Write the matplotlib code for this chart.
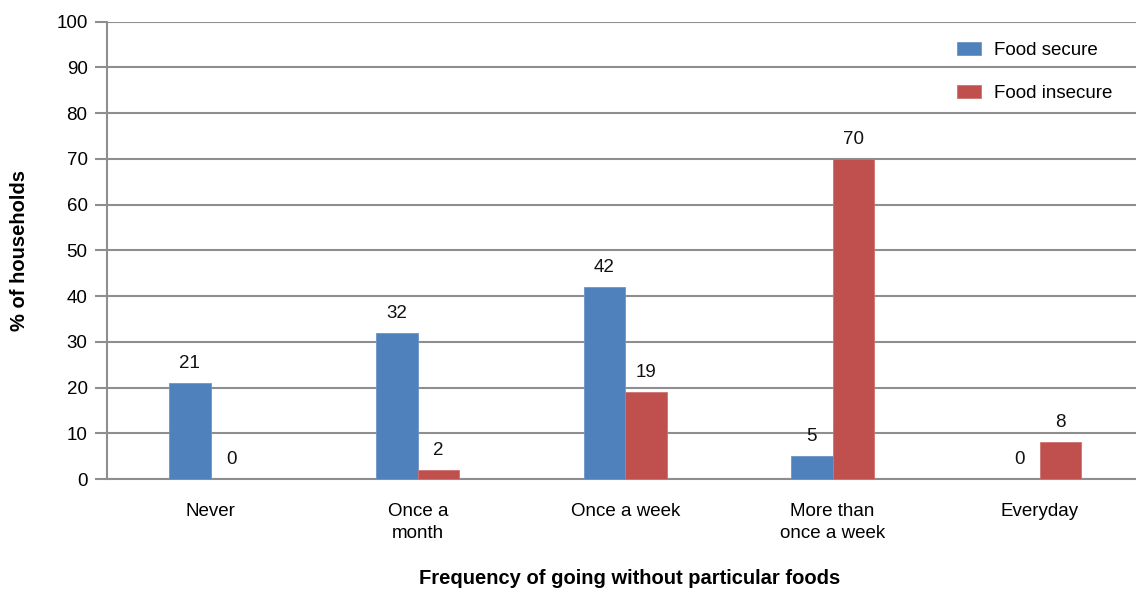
import matplotlib
matplotlib.use("Agg")
import matplotlib.pyplot as plt
import numpy as np

categories = ["Never", "Once a\nmonth", "Once a week", "More than\nonce a week", "Everyday"]
food_secure = [21, 32, 42, 5, 0]
food_insecure = [0, 2, 19, 70, 8]
series_names = ["Food secure", "Food insecure"]
y_ticks = [0, 10, 20, 30, 40, 50, 60, 70, 80, 90, 100]

plt.rcParams["font.family"] = ["Liberation Sans", "DejaVu Sans"]

BLUE = "#4F81BD"
RED = "#C0504D"
GRID = "#8E8E8E"
FS = 13.5

W, H, DPI = 1136, 589, 100
fig = plt.figure(figsize=(W / DPI, H / DPI), dpi=DPI)
left, right = 107 / W, 1143.5 / W
bottom, top = 1 - 479 / H, 1 - 21.7 / H
ax = fig.add_axes([left, bottom, right - left, top - bottom])

x = np.arange(len(categories))
bw = 0.2
b1 = ax.bar(x - bw / 2, food_secure, bw, color=BLUE, edgecolor="#6C95C8", linewidth=0.6,
            label=series_names[0], zorder=3)
b2 = ax.bar(x + bw / 2, food_insecure, bw, color=RED, edgecolor="#CF7370", linewidth=0.6,
            label=series_names[1], zorder=3)

for bars, vals in ((b1, food_secure), (b2, food_insecure)):
    for rect, v in zip(bars, vals):
        ax.annotate(f"{v}", (rect.get_x() + rect.get_width() / 2, v),
                    xytext=(0, 8), textcoords="offset points",
                    ha="center", va="bottom", fontsize=FS, color="#111111")

ax.set_xlim(-0.5, len(categories) - 0.5)
ax.set_ylim(0, 100)
ax.set_yticks(y_ticks)
ax.set_yticklabels([str(t) for t in y_ticks], fontsize=FS)
ax.set_xticks(x)
ax.set_xticklabels(categories, fontsize=FS, linespacing=1.45)
ax.tick_params(axis="x", length=0, pad=17)
ax.tick_params(axis="y", length=9, width=1.5, color=GRID, pad=5)

ax.yaxis.grid(True, color=GRID, linewidth=1.5, zorder=0)
ax.set_axisbelow(True)
for s in ("top", "right"):
    ax.spines[s].set_visible(False)
ax.spines["left"].set_color(GRID)
ax.spines["left"].set_linewidth(1.5)
ax.spines["bottom"].set_color(GRID)
ax.spines["bottom"].set_linewidth(1.5)

ax.set_ylabel("% of households", fontsize=14.5, fontweight="bold")
ax.yaxis.set_label_coords(-78 / (W * (right - left)), 0.5)
fig.text(630 / W, 1 - 578 / H,
         "Frequency of going without particular foods",
         ha="center", va="center", fontsize=14.5, fontweight="bold")

leg = ax.legend(loc="upper left", bbox_to_anchor=(957 / W, 1 - 42 / H),
                bbox_transform=fig.transFigure, frameon=False, fontsize=FS,
                handlelength=1.28, handleheight=0.7, handletextpad=0.7,
                labelspacing=1.37, borderaxespad=0, borderpad=0)

fig.savefig("out.png", dpi=DPI)
